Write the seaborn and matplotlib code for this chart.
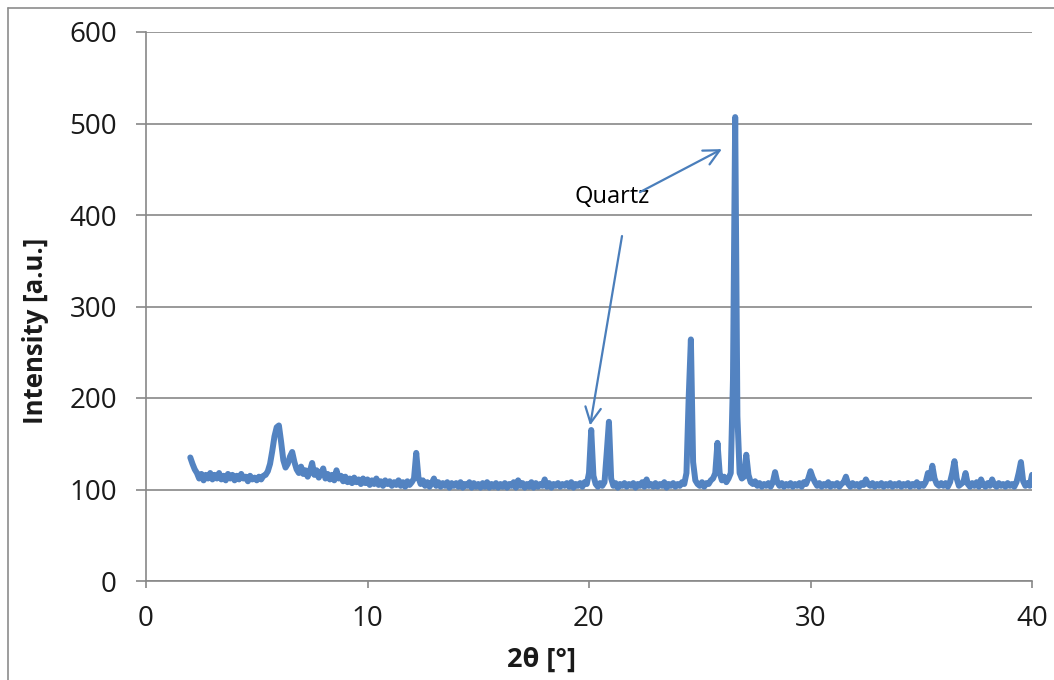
import numpy as np
import pandas as pd
import matplotlib
matplotlib.use("Agg")
import matplotlib.pyplot as plt
import seaborn as sns

# Step-scan XRD pattern: 2θ from 2.0° to 40.0° in 0.1° steps
two_theta_start = 2.0
two_theta_step = 0.1

intensity = [
    135, 128, 122, 118, 112, 117, 110, 116, 112, 118,   # 2.x
    111, 116, 112, 118, 111, 115, 110, 117, 112, 116,   # 3.x
    110, 115, 111, 117, 112, 114, 109, 115, 111, 113,   # 4.x
    110, 114, 111, 115, 116, 120, 128, 142, 158, 168,   # 5.x
    170, 152, 132, 124, 128, 136, 141, 130, 122, 118,   # 6.x
    125, 117, 121, 114, 120, 129, 116, 121, 113, 118,   # 7.x
    123, 112, 117, 111, 116, 110, 121, 112, 115, 109,   # 8.x
    114, 108, 112, 107, 113, 108, 111, 106, 112, 107,   # 9.x
    111, 105, 110, 106, 112, 105, 109, 104, 110, 106,   # 10.x
    109, 104, 108, 105, 110, 104, 108, 103, 109, 105,   # 11.x
    108, 112, 140, 113, 106, 110, 104, 108, 103, 107,   # 12.x
    112, 104, 108, 103, 107, 104, 108, 102, 107, 104,   # 13.x
    107, 103, 108, 102, 106, 104, 108, 102, 107, 103,   # 14.x
    106, 102, 107, 103, 108, 102, 106, 103, 107, 102,   # 15.x
    106, 103, 107, 102, 106, 104, 108, 102, 110, 104,   # 16.x
    107, 102, 106, 103, 108, 102, 107, 103, 106, 104,   # 17.x
    111, 103, 107, 102, 106, 104, 107, 103, 106, 104,   # 18.x
    107, 103, 108, 102, 106, 104, 107, 103, 108, 106,   # 19.x
    118, 165, 115, 106, 103, 107, 104, 108, 140, 174,   # 20.x
    112, 104, 107, 102, 106, 104, 107, 103, 106, 104,   # 21.x
    107, 102, 106, 104, 108, 103, 111, 104, 106, 103,   # 22.x
    107, 103, 106, 104, 108, 102, 106, 104, 107, 103,   # 23.x
    106, 104, 108, 106, 118, 200, 264, 130, 110, 106,   # 24.x
    104, 108, 103, 107, 106, 110, 112, 118, 151, 118,   # 25.x
    110, 114, 108, 112, 118, 220, 507, 180, 118, 112,   # 26.x
    114, 138, 116, 108, 106, 109, 104, 107, 103, 106,   # 27.x
    104, 107, 103, 108, 119, 108, 104, 107, 103, 106,   # 28.x
    104, 107, 103, 106, 104, 107, 103, 108, 106, 112,   # 29.x
    120, 113, 108, 104, 107, 103, 106, 104, 108, 103,   # 30.x
    106, 104, 107, 103, 106, 108, 114, 106, 103, 107,   # 31.x
    104, 106, 103, 107, 105, 111, 106, 104, 107, 103,   # 32.x
    106, 104, 107, 103, 106, 104, 107, 103, 106, 104,   # 33.x
    107, 103, 106, 104, 107, 103, 106, 104, 108, 103,   # 34.x
    106, 104, 108, 118, 112, 126, 112, 106, 104, 107,   # 35.x
    104, 107, 103, 108, 118, 131, 112, 104, 106, 108,   # 36.x
    118, 106, 103, 107, 104, 108, 103, 111, 105, 103,   # 37.x
    107, 104, 111, 105, 103, 107, 104, 106, 103, 107,   # 38.x
    104, 106, 103, 108, 118, 130, 109, 104, 107, 104,   # 39.x
    116,                                                # 40.0
]

x_ticks = [0, 10, 20, 30, 40]
y_ticks = [0, 100, 200, 300, 400, 500, 600]
x_label = "2θ [°]"
y_label = "Intensity [a.u.]"
annotation_text = "Quartz"
# Quartz reflections pointed at by the label
quartz_peaks = [(20.05, 170), (26.0, 472)]

two_theta = np.round(two_theta_start + two_theta_step * np.arange(len(intensity)), 2)
df = pd.DataFrame({"two_theta": two_theta, "intensity": intensity})

sns.set_theme(style="white")
plt.rcParams["font.family"] = ["Open Sans", "DejaVu Sans"]

fig = plt.figure(figsize=(10.54, 6.80), dpi=100)
ax = fig.add_axes([146 / 1054, 1 - 581 / 680, (1032 - 146) / 1054, (581 - 32) / 680])

grid_color = "#888888"
line_color = "#5383c1"

sns.lineplot(data=df, x="two_theta", y="intensity", ax=ax, color=line_color,
             linewidth=4.3, estimator=None, sort=False,
             solid_joinstyle="round", solid_capstyle="round")

ax.set_xlim(0, 40)
ax.set_ylim(0, 600)
ax.set_xticks(x_ticks)
ax.set_yticks(y_ticks)
ax.yaxis.grid(True, color=grid_color, linewidth=1.2)
ax.xaxis.grid(False)
ax.set_axisbelow(True)

for side in ("top", "right"):
    ax.spines[side].set_visible(False)
for side in ("left", "bottom"):
    ax.spines[side].set_color(grid_color)
    ax.spines[side].set_linewidth(1.2)

ax.tick_params(axis="y", direction="out", length=7, width=1.2, color=grid_color,
               pad=14, labelsize=20, labelcolor="#1a1a1a", left=True)
ax.tick_params(axis="x", direction="out", length=5, width=1.2, color=grid_color,
               pad=12, labelsize=20, labelcolor="#1a1a1a", bottom=True)

ax.set_xlabel(x_label, fontsize=19.5, fontweight="bold", color="#1a1a1a")
ax.set_ylabel(y_label, fontsize=18.5, fontweight="bold", color="#1a1a1a")
ax.xaxis.label.set_va("center")
ax.yaxis.label.set_va("center")
ax.xaxis.set_label_coords(0.446, -0.144)
ax.yaxis.set_label_coords(-0.125, 0.455)

# Label with arrows to the two quartz reflections
ax.text(21.04, 420, annotation_text, fontsize=17, color="black",
        ha="center", va="center")
arrow_starts = [(21.49, 377), (22.30, 425)]
for start, tip in zip(arrow_starts, quartz_peaks):
    ax.annotate("", xy=tip, xytext=start,
                arrowprops=dict(arrowstyle="->", color="#4a7ebb", lw=1.6,
                                mutation_scale=28, shrinkA=0, shrinkB=0))

# Thin frame around the chart area
fig.add_artist(plt.Line2D([8 / 1054, 8 / 1054], [0, 1 - 8 / 680],
                          transform=fig.transFigure, color="#8c8c8c", lw=1.2))
fig.add_artist(plt.Line2D([8 / 1054, 1], [1 - 8 / 680, 1 - 8 / 680],
                          transform=fig.transFigure, color="#8c8c8c", lw=1.2))

fig.savefig("out.png", dpi=100)
